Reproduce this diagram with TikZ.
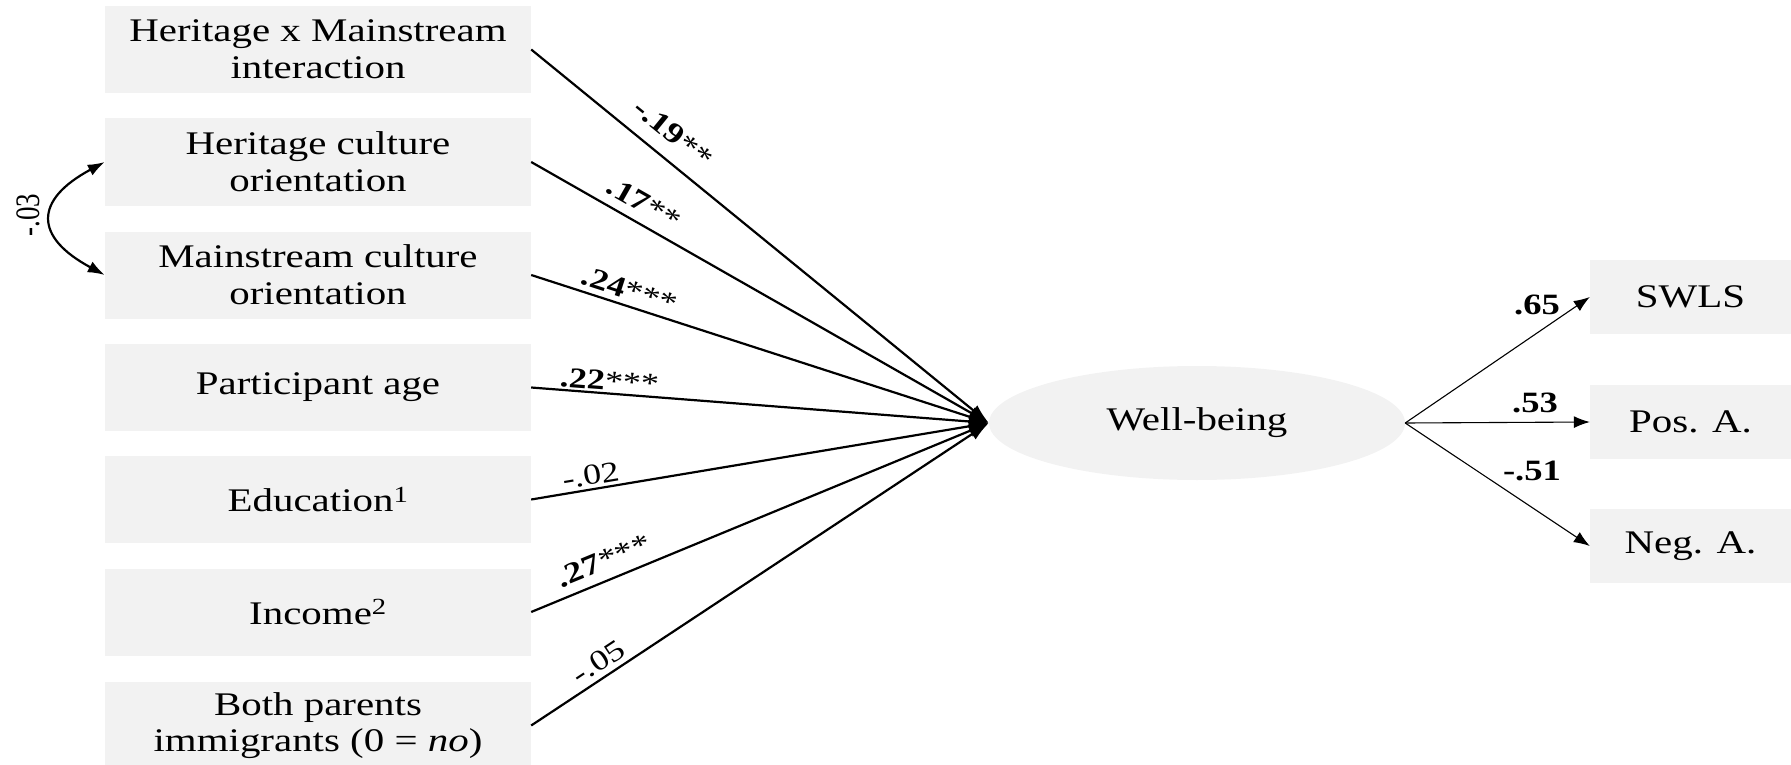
\documentclass[tikz,border=0pt]{standalone}
\usepackage{fontspec}
\setmainfont[FakeStretch=1.24]{Liberation Serif}
\newfontfamily\uprightserif{Liberation Serif}
\usetikzlibrary{arrows.meta,shapes.geometric,calc}
\definecolor{boxgray}{HTML}{F2F2F2}
\tikzset{
  var/.style={fill=boxgray, minimum width=426pt, minimum height=87pt, inner sep=0pt,
    align=center, font=\fontsize{33}{36.7}\selectfont},
  ind/.style={fill=boxgray, minimum width=201pt, minimum height=74pt, inner sep=0pt,
    font=\fontsize{33}{40}\selectfont},
  latent/.style={ellipse, fill=boxgray, minimum width=416pt, minimum height=114pt,
    inner sep=0pt, font=\fontsize{33}{36.7}\selectfont},
  effect/.style={line width=2.2pt, -{Latex[length=20pt,width=13pt]}},
  load/.style={line width=1.1pt, -{Latex[length=16pt,width=12pt]}},
  cov/.style={line width=2.2pt, {Latex[length=17pt,width=12pt]}-{Latex[length=17pt,width=12pt]}},
  coef/.style={sloped, inner sep=0pt, font=\fontsize{29}{32}\selectfont},
  lcoef/.style={inner sep=0pt, font=\fontsize{29.5}{32}\selectfont\bfseries},
}
\begin{document}
\begin{tikzpicture}[x=1pt, y=-1pt]
\useasboundingbox (0,0) rectangle (1791,765);

% predictors
\node[var] (ix) at (318,49.5)  {Heritage x Mainstream\\interaction};
\node[var] (hc) at (318,162)   {Heritage culture\\orientation};
\node[var] (mc) at (318,275)   {Mainstream culture\\orientation};
\node[var] (ag) at (318,387.5) {Participant age};
\node[var] (ed) at (318,499.5) {Education\textsuperscript{1}};
\node[var] (in) at (318,612)   {Income\textsuperscript{2}};
\node[var] (pa) at (318,725.5) {Both parents\\immigrants (0 = \textit{no})};

% latent outcome and its indicators
\node[latent] (wb) at (1197,423) {Well-being};
\node[ind] (sw) at (1690.5,297) {SWLS};
\node[ind] (pos) at (1690.5,422) {Pos. A.};
\node[ind] (neg) at (1690.5,546) {Neg. A.};

% structural paths
\draw[effect] (ix.east) -- node[coef, pos=0.276, above=14pt] {\textbf{-.19}**} (wb.west);
\draw[effect] (hc.east) -- node[coef, pos=0.225, above=9pt] {\textbf{.17}**} (wb.west);
\draw[effect] (mc.east) -- node[coef, pos=0.204, above=5pt] {\textbf{.24}***} (wb.west);
\draw[effect] (ag.east) -- node[coef, pos=0.169, above=1.5pt] {\textbf{.22}***} (wb.west);
\draw[effect] (ed.east) -- node[coef, pos=0.135, above=3pt] {-.02} (wb.west);
\draw[effect] (in.east) -- node[coef, pos=0.175, above=9pt] {\textbf{.27}***} (wb.west);
\draw[effect] (pa.east) -- node[coef, pos=0.166, above=5pt] {-.05} (wb.west);

% covariance between the two orientations
\draw[cov] (hc.west) .. controls ($(hc.west)+(-71,38)$) and ($(mc.west)+(-71,-38)$) .. (mc.west);
\node[rotate=90, inner sep=0pt] (cv) at (28,215)
  {\scalebox{1}[1.27]{\uprightserif\fontsize{27}{30}\selectfont -.03}};

% measurement paths
\draw[load] (wb.east) -- (sw.west);
\draw[load] (wb.east) -- (pos.west);
\draw[load] (wb.east) -- (neg.west);
\node[lcoef] (l1) at (1537,305) {.65};
\node[lcoef] (l2) at (1535,403) {.53};
\node[lcoef] (l3) at (1532,471) {-.51};
\end{tikzpicture}
\end{document}
